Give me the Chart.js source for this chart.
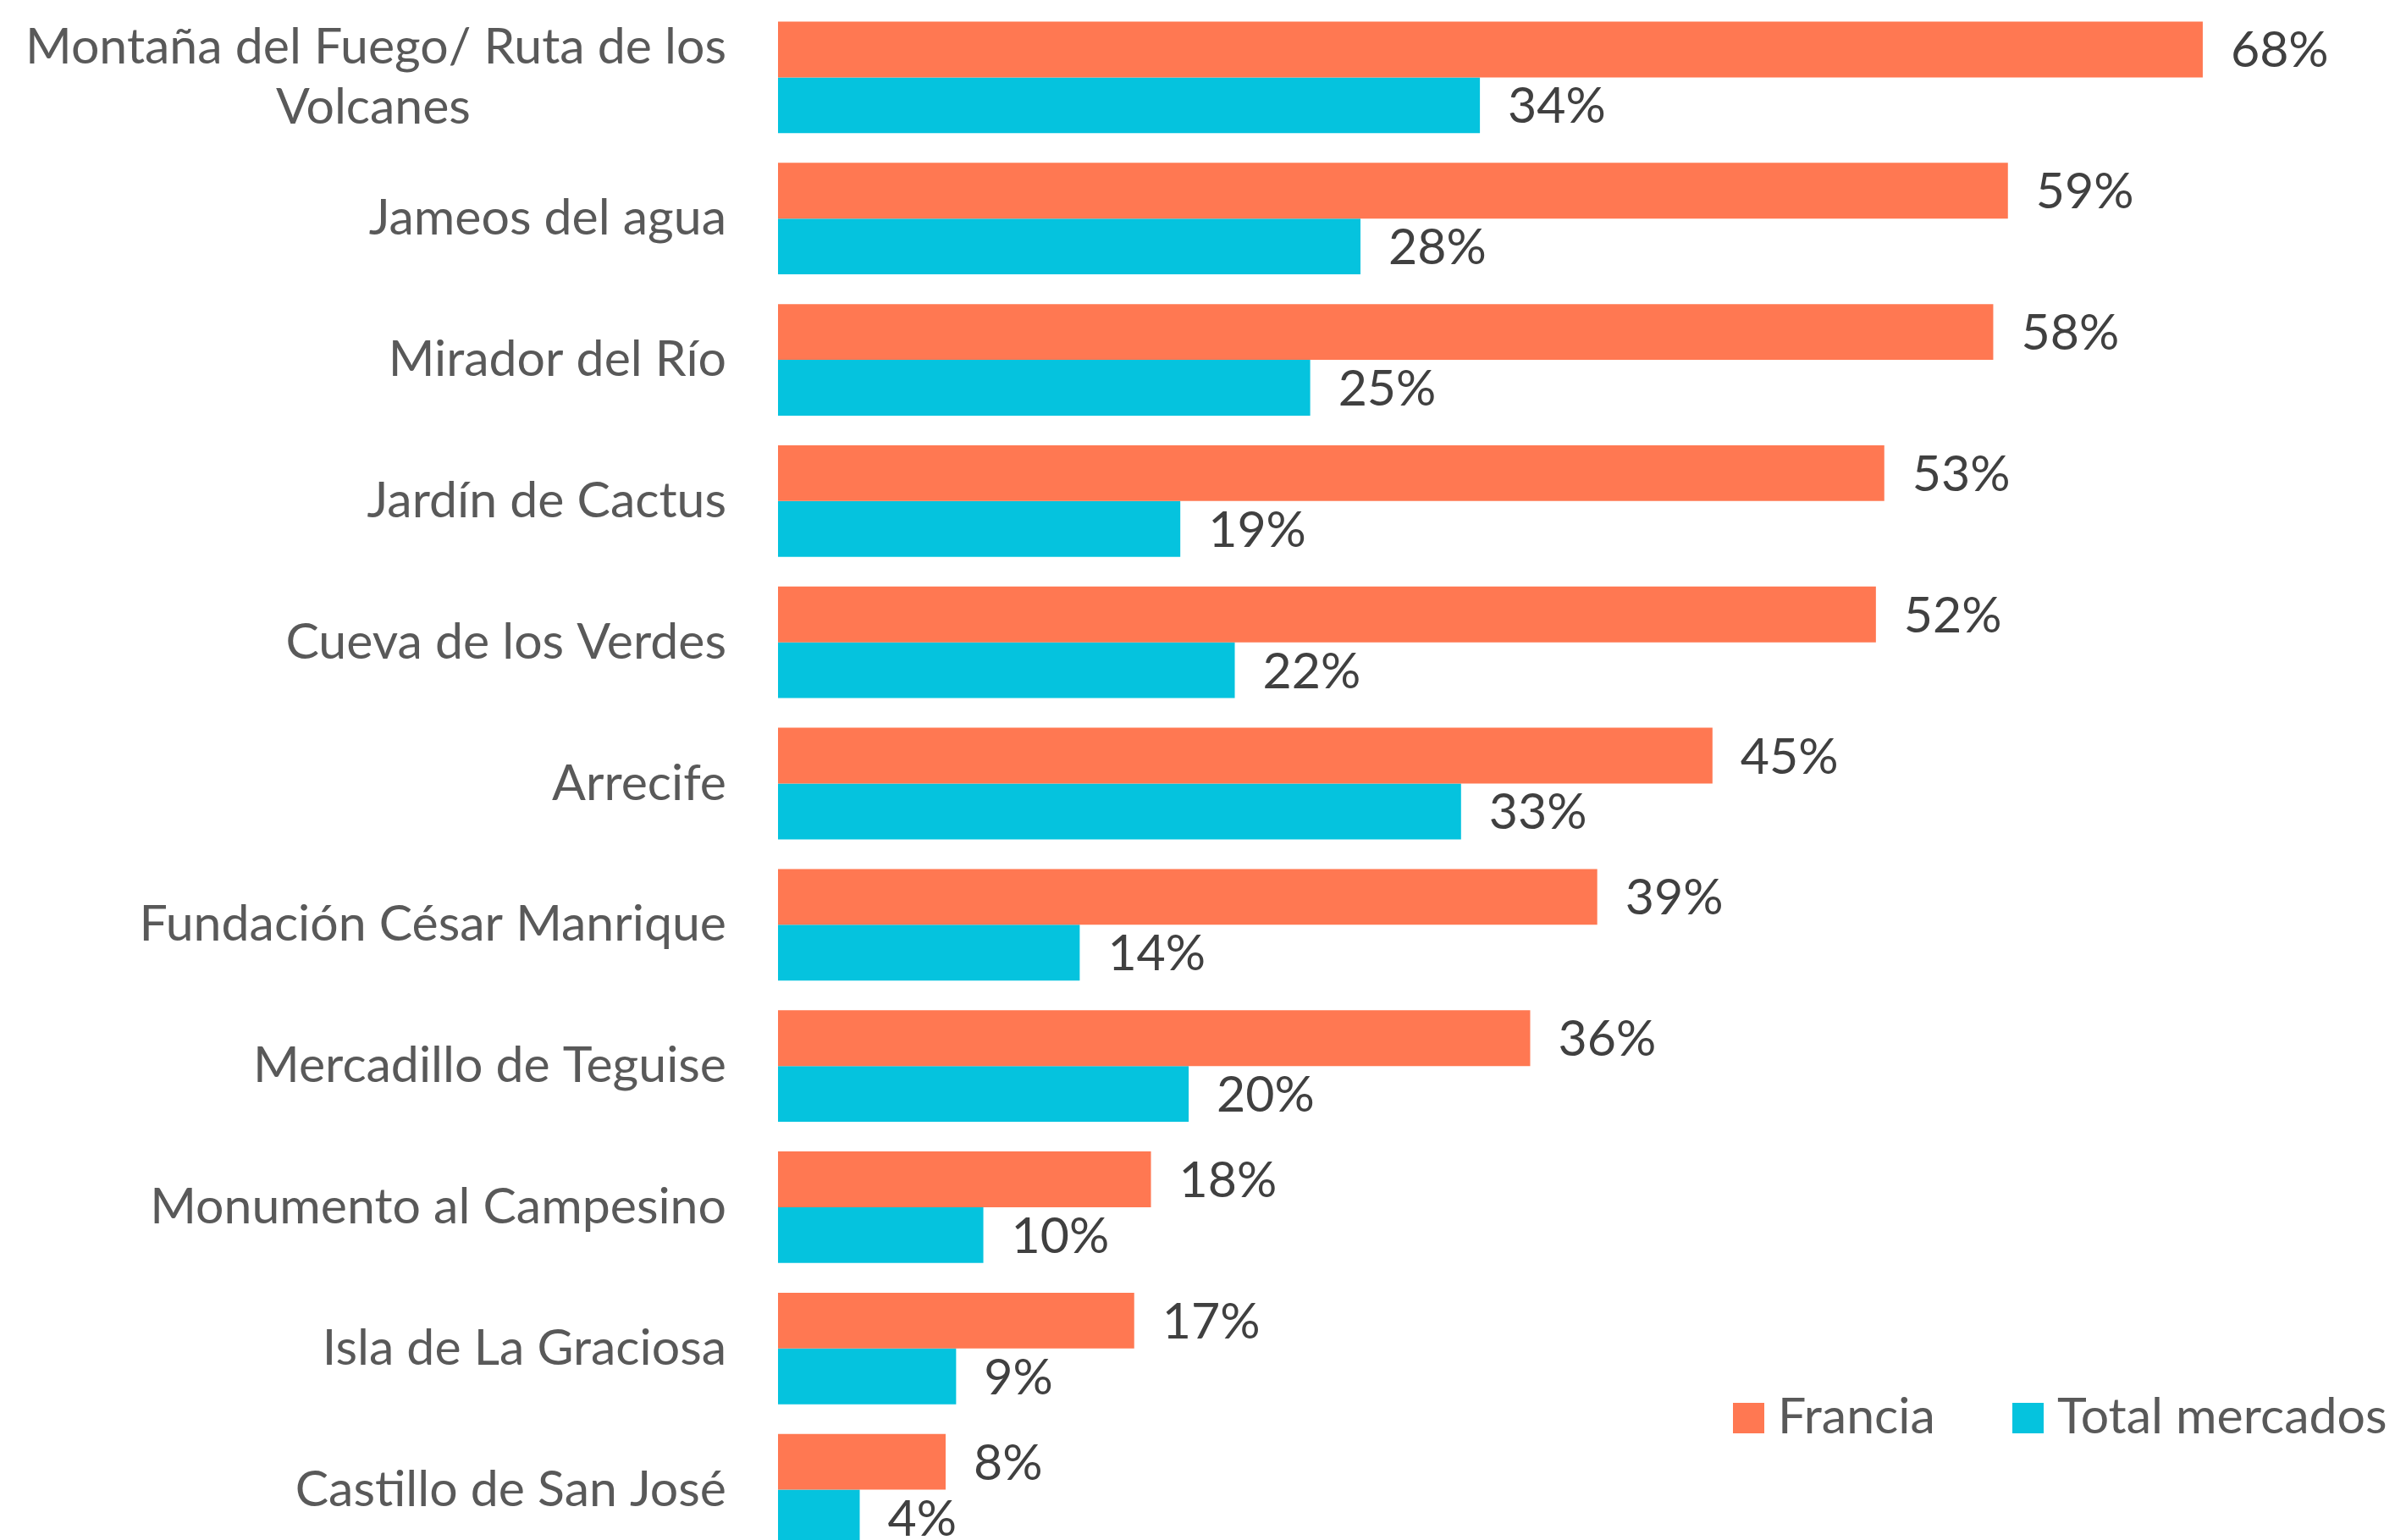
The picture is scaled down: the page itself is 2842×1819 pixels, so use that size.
<!DOCTYPE html>
<html>
<head>
<meta charset="utf-8">
<script src="https://cdn.jsdelivr.net/npm/chart.js@4/dist/chart.umd.min.js"></script>
<style>
  html, body { margin: 0; padding: 0; background: #fff; }
  #frame { width: 2842px; height: 1819px; overflow: hidden; position: relative; }
  #box { width: 2842px; height: 1843px; position: absolute; left: 0; top: 0; }
</style>
</head>
<body>
<div id="frame"><div id="box"><canvas id="chart"></canvas></div></div>
<script>
const labels = [
    ['Montaña del Fuego/ Ruta de los', 'Volcanes'],
    'Jameos del agua',
    'Mirador del Río',
    'Jardín de Cactus',
    'Cueva de los Verdes',
    'Arrecife',
    'Fundación César Manrique',
    'Mercadillo de Teguise',
    'Monumento al Campesino',
    'Isla de La Graciosa',
    'Castillo de San José'
]
// shares in % (labels show them rounded)
const francia = [68.0, 58.7, 58.0, 52.8, 52.4, 44.6, 39.1, 35.9, 17.8, 17.0, 8.0]
const totalMercados = [33.5, 27.8, 25.4, 19.2, 21.8, 32.6, 14.4, 19.6, 9.8, 8.5, 3.9]
const seriesNames = ['Francia', 'Total mercados']

const FONT = 'Lato'
const fontSize = 59

// pad shorter lines of a multi-line label so they look centred under the longest one
const measureCtx = document.createElement('canvas').getContext('2d')
measureCtx.font = `${fontSize}px ${FONT}`
function centerLines(lines) {
    const widths = lines.map(l => measureCtx.measureText(l).width)
    const maxW = Math.max(...widths)
    const sp = measureCtx.measureText(' ').width
    return lines.map((l, i) => l + ' '.repeat(Math.round((maxW - widths[i]) / 2 / sp)))
}

// value labels to the right of each bar
const valueLabels = {
    id: 'valueLabels',
    afterDatasetsDraw(chart) {
        const ctx = chart.ctx
        ctx.save()
        ctx.font = `${fontSize}px ${FONT}`
        ctx.fillStyle = '#404040'
        ctx.textAlign = 'left'
        ctx.textBaseline = 'middle'
        chart.data.datasets.forEach((ds, i) => {
            chart.getDatasetMeta(i).data.forEach((bar, j) => {
                ctx.fillText(Math.round(ds.data[j]) + '%', bar.x + 33, bar.y + 2)
            })
        })
        ctx.restore()
    }
}

// legend sitting inside the plot, bottom right
const cornerLegend = {
    id: 'cornerLegend',
    afterDraw(chart) {
        const ctx = chart.ctx
        ctx.save()
        ctx.font = `${fontSize}px ${FONT}`
        ctx.textBaseline = 'alphabetic'
        ctx.textAlign = 'left'
        const xs = [2047, 2377]
        chart.data.datasets.forEach((ds, i) => {
            ctx.fillStyle = ds.backgroundColor
            ctx.fillRect(xs[i], 1657, 37, 36)
            ctx.fillStyle = '#595959'
            ctx.fillText(ds.label, xs[i] + 53, 1693)
        })
        ctx.restore()
    }
}

const config = {
    type: 'bar',
    data: {
        labels: labels,
        datasets: [
            { label: seriesNames[0], data: francia, backgroundColor: '#FF7852' },
            { label: seriesNames[1], data: totalMercados, backgroundColor: '#05C3DE' }
        ]
    },
    options: {
        indexAxis: 'y',
        responsive: true,
        maintainAspectRatio: false,
        devicePixelRatio: 1,
        animation: false,
        layout: { padding: { top: 8, right: 0, bottom: 0, left: 0 } },
        datasets: { bar: { categoryPercentage: 0.79, barPercentage: 1.0 } },
        plugins: {
            legend: { display: false },
            tooltip: { enabled: false }
        },
        scales: {
            x: {
                display: false,
                min: 0,
                max: 77.7
            },
            y: {
                afterFit: s => {
                    s.width = 919
                    s.paddingTop = 0
                    s.paddingBottom = 0
                },
                grid: { display: false, drawTicks: false },
                border: { display: false },
                ticks: {
                    padding: 61,
                    color: '#595959',
                    font: { family: FONT, size: fontSize },
                    callback: function(value) {
                        const l = this.getLabelForValue(value)
                        return Array.isArray(labels[value]) ? centerLines(labels[value]) : l
                    }
                }
            }
        }
    },
    plugins: [valueLabels, cornerLegend]
}

const myChart = new Chart(document.getElementById('chart'), config)
</script>
</body>
</html>
